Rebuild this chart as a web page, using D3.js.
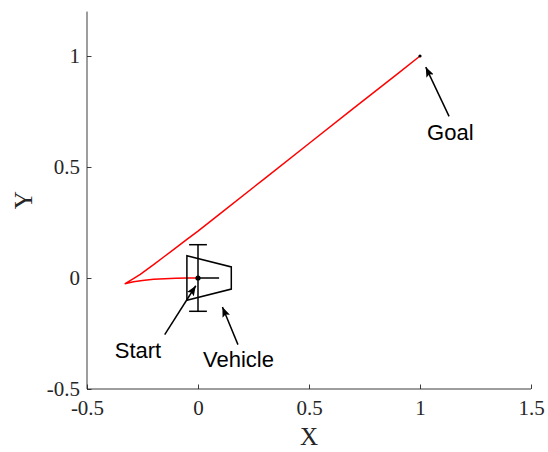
<!DOCTYPE html>
<html>
<head>
<meta charset="utf-8">
<script src="https://cdn.jsdelivr.net/npm/d3@7"></script>
<style>
  body { margin: 0; background: #fff; }
  svg { display: block; }
  .axis text { font-family: "Liberation Serif", serif; font-size: 21px; fill: #262626; }
  .axis path, .axis line { stroke: #262626; stroke-width: 0.9; }
  .note { font-family: "Liberation Sans", Arial, sans-serif; font-size: 22px; fill: #000; }
</style>
</head>
<body>
<svg width="548" height="452"></svg>
<script>
// path the vehicle follows: reverse from start to the cusp, then forward to the goal
const pathX = [0, -0.05, -0.1, -0.15, -0.2, -0.25, -0.29, -0.33, -0.30, -0.26, -0.2, -0.15, -0.1, -0.05, 0, 0.1, 0.3, 0.5, 0.7, 0.9, 1.0];
const pathY = [0, 0, -0.001, -0.003, -0.006, -0.011, -0.017, -0.026, -0.008, 0.016, 0.06, 0.098, 0.136, 0.174, 0.211, 0.29, 0.448, 0.606, 0.764, 0.921, 1.0];

// vehicle outline at the start pose
const bodyX = [-0.05, 0.15, 0.15, -0.05];
const bodyY = [0.1, 0.05, -0.05, -0.1];
const axleHalf = 0.15;
const capHalf = 0.04;
const headingLen = 0.095;

const goal = [1, 1];

const xTicks = [-0.5, 0, 0.5, 1, 1.5];
const yTicks = [-0.5, 0, 0.5, 1];

// text, label corner, arrow tail, arrow tip (data units)
const notes = [
  { text: "Start", at: [-0.375, -0.36], from: [-0.15, -0.255], to: [-0.01, -0.035] },
  { text: "Vehicle", at: [0.0225, -0.40], from: [0.18, -0.30], to: [0.11, -0.131] },
  { text: "Goal", at: [1.032, 0.623], from: [1.131, 0.728], to: [1.026, 0.95] }
];

const svg = d3.select("svg");
const x = d3.scaleLinear().domain([-0.5, 1.5]).range([87, 531]);
const y = d3.scaleLinear().domain([-0.5, 1.2]).range([389, 11.6]);

const fmt = d => d === 0 ? "0" : String(d);

svg.append("g").attr("class", "axis")
  .attr("transform", "translate(0,389)")
  .call(d3.axisBottom(x).tickValues(xTicks).tickFormat(fmt).tickSizeInner(-4.5).tickSizeOuter(0).tickPadding(11))
  .call(g => g.select(".domain").attr("d", "M" + x.range()[0] + ",0H" + x.range()[1]));

svg.append("g").attr("class", "axis")
  .attr("transform", "translate(87,0)")
  .call(d3.axisLeft(y).tickValues(yTicks).tickFormat(fmt).tickSizeInner(-4.5).tickSizeOuter(0).tickPadding(7))
  .call(g => g.select(".domain").attr("d", "M0," + y.range()[0] + "V" + y.range()[1]));

svg.append("text")
  .attr("x", x(0.5)).attr("y", 445)
  .attr("text-anchor", "middle")
  .style("font-family", "Liberation Serif, serif").style("font-size", "25px").style("fill", "#262626")
  .text("X");

svg.append("text")
  .attr("transform", "translate(32," + ((y.range()[0] + y.range()[1]) / 2) + ") rotate(-90)")
  .attr("text-anchor", "middle")
  .style("font-family", "Liberation Serif, serif").style("font-size", "25px").style("fill", "#262626")
  .text("Y");

// red path
const line = d3.line().x(d => x(d[0])).y(d => y(d[1]));
svg.append("path")
  .datum(pathX.map((v, i) => [v, pathY[i]]))
  .attr("d", line)
  .attr("fill", "none")
  .attr("stroke", "#ff0000")
  .attr("stroke-width", 1.5);

// vehicle
const veh = svg.append("g").attr("fill", "none").attr("stroke", "#000").attr("stroke-width", 1.5);
veh.append("path")
  .datum(bodyX.map((v, i) => [v, bodyY[i]]))
  .attr("d", d => line(d) + "Z");
veh.append("path")
  .datum([[0, -axleHalf], [0, axleHalf]])
  .attr("d", line);
veh.append("path").datum([[-capHalf, axleHalf], [capHalf, axleHalf]]).attr("d", line);
veh.append("path").datum([[-capHalf, -axleHalf], [capHalf, -axleHalf]]).attr("d", line);
veh.append("path").datum([[0, 0], [headingLen, 0]]).attr("d", line);
svg.append("circle").attr("cx", x(0)).attr("cy", y(0)).attr("r", 2.6).attr("fill", "#000");

// goal marker
svg.append("circle").attr("cx", x(goal[0])).attr("cy", y(goal[1])).attr("r", 1.6).attr("fill", "#000");

// annotations
svg.append("defs").append("marker")
  .attr("id", "head")
  .attr("markerUnits", "userSpaceOnUse")
  .attr("viewBox", "0 0 10 8")
  .attr("refX", 10).attr("refY", 4)
  .attr("markerWidth", 10).attr("markerHeight", 8)
  .attr("orient", "auto")
  .append("path")
  .attr("d", "M0,0L10,4L0,8L2,4Z")
  .attr("fill", "#000");

svg.selectAll("line.arrow").data(notes).join("line")
  .attr("class", "arrow")
  .attr("x1", d => x(d.from[0])).attr("y1", d => y(d.from[1]))
  .attr("x2", d => x(d.to[0])).attr("y2", d => y(d.to[1]))
  .attr("stroke", "#000").attr("stroke-width", 1.5)
  .attr("marker-end", "url(#head)");

svg.selectAll("text.note").data(notes).join("text")
  .attr("class", "note")
  .attr("x", d => x(d.at[0])).attr("y", d => y(d.at[1]))
  .text(d => d.text);
</script>
</body>
</html>
